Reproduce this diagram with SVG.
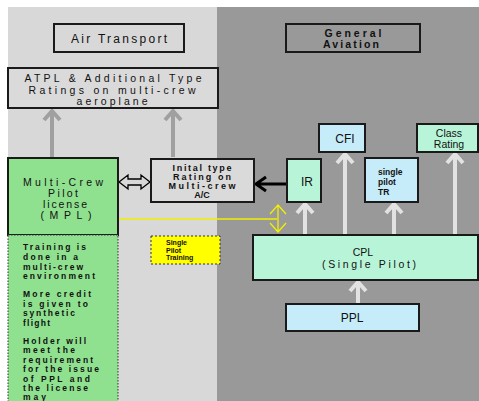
<svg xmlns="http://www.w3.org/2000/svg" width="479" height="401" viewBox="0 0 479 401">
<style>
text{font-family:"Liberation Sans",Arial,sans-serif;fill:#111;}
.box{stroke:#1a1a1a;stroke-width:2;}
.gray{fill:#dadada;}
.green{fill:#8fe08f;}
.mint{fill:#b8f5d8;}
.blue{fill:#c6ecfa;}
.t12{font-size:12px;text-anchor:middle;}
.t10a{font-size:10.5px;text-anchor:middle;}
.t10{font-size:9px;font-weight:bold;text-anchor:middle;}
.t11{font-size:8.5px;font-weight:bold;}
.t8{font-size:7px;font-weight:bold;}
.ga{stroke:#a0a0a0;stroke-width:4;fill:none;}
.la{stroke:#e2e2e2;stroke-width:4;fill:none;}
</style>
<rect x="0" y="0" width="479" height="401" fill="#ffffff"/>
<rect x="8" y="7" width="210" height="394" fill="#d8d8d8"/>
<rect x="217" y="7" width="262" height="394" fill="#999999"/>

<g id="connectors">
  <path class="ga" d="M52,157 V112 M44,120 L52,111 L60,120"/>
  <path class="ga" d="M173,157 V112 M165,120 L173,111 L181,120"/>
  <path class="la" d="M305,235 V205 M297,213 L305,204 L313,213"/>
  <path class="la" d="M345,235 V155 M337,163 L345,154 L353,163"/>
  <path class="la" d="M394,235 V205 M386,213 L394,204 L402,213"/>
  <path class="la" d="M455,235 V155 M447,163 L455,154 L463,163"/>
  <path class="la" d="M358,304 V283 M350,291 L358,282 L366,291"/>
  <path d="M286,184 H257 M266,177 L256,184 L266,191" stroke="#000" stroke-width="3" fill="none"/>
  <polygon points="119,182 128,175 128,179 141,179 141,175 150,182 141,189 141,185 128,185 128,189" fill="#d8d8d8" stroke="#000" stroke-width="1.3"/>
  <path d="M118,219 H277" stroke="#f0f000" stroke-width="1.5" fill="none"/>
  <path d="M278,206 V231 M270,214 L278,205 L286,214 M270,223 L278,232 L286,223" stroke="#f0f000" stroke-width="1.3" fill="none"/>
</g>

<g id="air-transport">
  <rect class="box" x="54" y="24" width="130" height="28" fill="#d8d8d8"/>
  <text class="t12" x="119" y="43" textLength="96" lengthAdjust="spacing">Air Transport</text>
</g>
<g id="general-aviation">
  <rect class="box" x="286" y="24" width="134" height="28" fill="#999999"/>
  <text class="t10a" x="353" y="37" font-weight="bold" textLength="57" lengthAdjust="spacing">General</text>
  <text class="t10a" x="351" y="48" font-weight="bold" textLength="56" lengthAdjust="spacing">Aviation</text>
</g>
<g id="atpl">
  <rect class="box gray" x="8" y="68" width="210" height="40"/>
  <text class="t10a" x="113" y="82" textLength="177" lengthAdjust="spacing">ATPL &amp; Additional Type</text>
  <text class="t10a" x="112" y="94" textLength="167" lengthAdjust="spacing">Ratings on multi-crew</text>
  <text class="t10a" x="112" y="105" textLength="71" lengthAdjust="spacing">aeroplane</text>
</g>
<g id="mpl">
  <rect class="box green" x="8" y="158" width="110" height="77"/>
  <text class="t10a" x="63" y="186" textLength="80" lengthAdjust="spacing">Multi-Crew</text>
  <text class="t10a" x="63" y="197" textLength="30" lengthAdjust="spacing">Pilot</text>
  <text class="t10a" x="65" y="208" textLength="44" lengthAdjust="spacing">license</text>
  <text class="t10a" x="66" y="219" textLength="51" lengthAdjust="spacing">(MPL)</text>
</g>
<g id="initial-type">
  <rect class="box gray" x="151" y="159" width="103" height="43"/>
  <text class="t10" x="202" y="171" textLength="59" lengthAdjust="spacing">Inital type</text>
  <text class="t10" x="202" y="180" textLength="58" lengthAdjust="spacing">Rating on</text>
  <text class="t10" x="202" y="189" textLength="67" lengthAdjust="spacing">Multi-crew</text>
  <text class="t10" x="202" y="198">A/C</text>
</g>
<g id="ir">
  <rect class="box mint" x="287" y="159" width="34" height="43"/>
  <text class="t12" x="307" y="186">IR</text>
</g>
<g id="cfi">
  <rect class="box blue" x="319" y="124" width="46" height="28"/>
  <text class="t12" x="345" y="143">CFI</text>
</g>
<g id="class-rating">
  <rect class="box mint" x="417" y="124" width="61" height="28"/>
  <text class="t10a" x="449" y="137" font-size="10">Class</text>
  <text class="t10a" x="449" y="148" font-size="10">Rating</text>
</g>
<g id="single-pilot-tr">
  <rect class="box blue" x="365" y="158" width="53" height="44"/>
  <text class="t11" x="378" y="175" font-size="9">single</text>
  <text class="t11" x="378" y="185" font-size="9">pilot</text>
  <text class="t11" x="378" y="195" font-size="9">TR</text>
</g>
<g id="cpl">
  <rect class="box mint" x="253" y="235" width="225" height="45"/>
  <text class="t10a" x="363" y="256" font-size="11">CPL</text>
  <text class="t10a" x="369" y="268" font-size="11" textLength="94" lengthAdjust="spacing">(Single Pilot)</text>
</g>
<g id="ppl">
  <rect class="box blue" x="286" y="304" width="133" height="27"/>
  <text class="t12" x="352" y="322">PPL</text>
</g>
<g id="single-pilot-training">
  <rect x="151" y="236" width="69" height="28" fill="#ffff00" stroke="#333" stroke-width="1" stroke-dasharray="2,2"/>
  <text class="t8" x="166" y="245">Single</text>
  <text class="t8" x="166" y="252.5">Pilot</text>
  <text class="t8" x="166" y="260">Training</text>
</g>
<g id="mpl-notes">
  <rect class="green" x="8" y="235" width="110" height="170" stroke="#333" stroke-width="1" stroke-dasharray="1.5,1.5"/>
  <text class="t11" x="23" y="250" textLength="63" lengthAdjust="spacing">Training is</text>
  <text class="t11" x="23" y="260" textLength="55" lengthAdjust="spacing">done in a</text>
  <text class="t11" x="23" y="270" textLength="60" lengthAdjust="spacing">multi-crew</text>
  <text class="t11" x="23" y="279" textLength="72" lengthAdjust="spacing">environment</text>
  <text class="t11" x="23" y="297" textLength="68" lengthAdjust="spacing">More credit</text>
  <text class="t11" x="23" y="307" textLength="65" lengthAdjust="spacing">is given to</text>
  <text class="t11" x="23" y="316" textLength="52" lengthAdjust="spacing">synthetic</text>
  <text class="t11" x="23" y="326" textLength="27" lengthAdjust="spacing">flight</text>
  <text class="t11" x="23" y="344" textLength="63" lengthAdjust="spacing">Holder will</text>
  <text class="t11" x="23" y="353" textLength="52" lengthAdjust="spacing">meet the</text>
  <text class="t11" x="23" y="363" textLength="70" lengthAdjust="spacing">requirement</text>
  <text class="t11" x="23" y="372" textLength="76" lengthAdjust="spacing">for the issue</text>
  <text class="t11" x="23" y="382" textLength="67" lengthAdjust="spacing">of PPL and</text>
  <text class="t11" x="23" y="391" textLength="65" lengthAdjust="spacing">the license</text>
  <text class="t11" x="23" y="400" textLength="23" lengthAdjust="spacing">may</text>
</g>
</svg>
